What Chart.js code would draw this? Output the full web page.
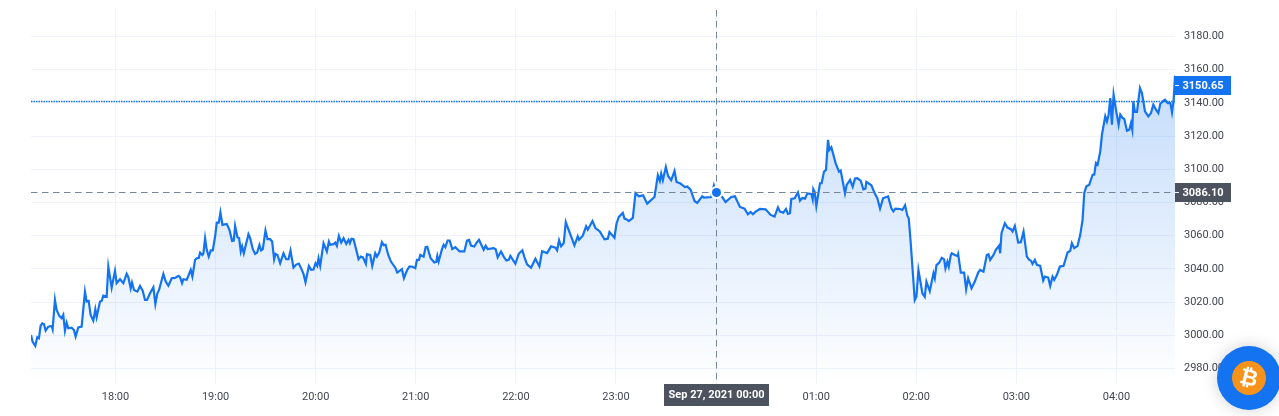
<!DOCTYPE html>
<html lang="en">
  <head>
    <meta charset="utf-8" />
    <title>ETH price chart</title>
    <script src="https://cdn.jsdelivr.net/npm/chart.js/dist/chart.umd.min.js"></script>
    <style>
      * {
        margin: 0;
        padding: 0;
      }
      html, body {
        width: 1279px;
        height: 416px;
        overflow: hidden;
        background: #fff;
      }
      #myChart {
        display: block;
      }
      .badge {
        position: absolute;
        left: 1217px;
        top: 346px;
        width: 64px;
        height: 64px;
        border-radius: 50%;
        background: #1373f0;
        box-shadow: 0 0 16px rgba(0, 0, 0, 0.18);
      }
      .coin {
        position: absolute;
        left: 15px;
        top: 15px;
        width: 34px;
        height: 34px;
        line-height: 34px;
        border-radius: 50%;
        background: #f7931a;
        color: #fff;
        text-align: center;
        font: bold 22px/34px "DejaVu Sans", sans-serif;
      }
      .coin span {
        display: inline-block;
        transform: rotate(14deg);
      }
    </style>
  </head>
  <body>
    <canvas id="myChart" width="1279" height="416"></canvas>
    <div class="badge"><div class="coin"><span>₿</span></div></div>

    <script>
      // minutes after 17:00
      const minutes = [
        9.35, 10.3, 11.9, 13.1, 14.1, 15.1, 16.1, 17.1, 18.1, 19.7, 21.7, 22.3, 23.7, 24.7, 26.3, 27.7, 28.7, 29.7, 30.7, 31.7,
        33.7, 35.1, 36.1, 37.7, 39.7, 41.7, 42.7, 43.9, 45.1, 46.7, 47.9, 48.7, 50.7, 51.7, 52.7, 54.7, 55.7, 57.7, 59.7, 60.7,
        62.7, 64.7, 66.7, 67.7, 69.1, 69.9, 71.1, 73.1, 74.7, 76.3, 77.7, 78.9, 80.7, 82.7, 83.9, 85.1, 86.1, 88.7, 90.1, 91.7,
        93.7, 95.7, 97.7, 98.7, 99.9, 100.7, 102.7, 105.1, 106.1, 107.7, 108.7, 109.9, 110.7, 112.1, 112.7, 113.7, 114.7, 115.9, 117.1, 118.3,
        119.7, 120.7, 121.9, 122.9, 124.1, 126.7, 128.3, 129.9, 130.9, 131.7, 133.1, 134.1, 135.1, 135.9, 136.9, 139.7,
        140.7, 142.3, 143.7, 144.9, 146.3, 147.3, 148.3, 149.9, 151.1, 152.7, 153.9, 155.1, 155.9, 157.1, 158.7, 160.7, 162.3, 163.7, 164.9, 166.7,
        168.3, 169.9, 171.7, 172.7, 173.9, 175.9, 177.3, 178.7, 179.9, 180.9, 181.7, 182.7, 184.7, 186.7, 187.9, 188.7, 190.7, 191.7, 192.7, 193.9,
        195.3, 196.7, 198.3, 199.7, 200.5, 201.5, 202.7, 204.3, 205.7, 207.1, 208.3, 210.1, 210.7, 212.7, 213.9, 215.7, 216.7, 218.1, 219.7, 220.7,
        221.9, 223.5, 225.1, 227.9, 228.9, 231.7, 232.9, 234.7, 236.1, 237.7, 239.7, 240.7, 241.9, 242.7, 244.7, 245.9, 246.9, 248.9, 251.1, 252.3,
        252.9, 253.7, 255.7, 256.7, 257.7, 259.1, 260.3, 261.9, 263.7, 266.3, 269.1, 270.7, 271.9, 273.1, 275.1, 276.3, 277.9, 280.7, 281.9, 283.1,
        286.7, 287.9, 289.1, 291.1, 292.7, 294.3, 295.7, 296.7,
        299.7, 301.7, 303.9, 305.1, 306.7, 309.1, 311.7, 314.1, 315.7, 318.7, 321.1, 323.7, 324.7, 325.9, 327.1, 328.7, 329.9, 335.1, 337.1, 337.9,
        340.1, 342.1, 343.1, 345.9, 347.7, 350.3, 353.1, 355.1, 356.1, 359.1, 360.3, 361.7, 364.1, 365.1, 366.7, 367.7, 370.1, 371.7, 373.7, 376.3,
        378.7, 383.1, 385.1, 386.3, 387.1, 388.1, 389.9, 391.3, 393.1, 395.1, 396.3, 398.7, 401.3, 402.7, 404.7, 407.1, 408.7, 411.7, 412.7, 417.1,
        418.7, 420, 423.7, 425.7, 429.1, 431.3, 434.3, 437.1, 439.1, 440.7, 442.1, 443.7, 446.3,
        449.7, 452.7, 455.1, 457.1, 458.3, 460.3, 461.9, 463.1, 464.3, 465.1, 467.1, 469.1, 470.3, 471.7, 473.3, 474.7, 477.1, 477.9, 478.3, 479.1,
        480.1, 482.3, 483.3, 484.7, 485.9, 487.1, 487.9, 489.1, 491.7, 493.7, 494.7, 497.3, 498.3, 500.3, 501.9, 503.3, 504.7, 506.7, 508.3, 509.5,
        510.1, 513.1, 515.1, 516.7, 518.3, 520.1, 523.1, 525.1, 526.3, 527.5, 530.3, 531.7, 533.3, 534.7, 535.5, 536.7, 539.1, 540.1, 541.3, 543.7,
        545.1, 546.1, 548.1, 550.3, 551.1, 552.1, 553.7, 555.3, 556.7, 557.5, 558.7, 559.5, 560.7,
        561.3, 563.1, 564.7, 565.1, 566.7, 568.7, 569.9, 571.1, 573.1, 575.1, 577.1, 578.3, 580.3, 582.3, 583.3, 584.3, 586.3, 587.7, 589.7, 590.3,
        591.1, 593.1, 594.7, 596.7, 597.7, 599.1, 601.1, 602.7, 604.3, 606.3, 607.7, 608.7, 609.7, 611.1, 612.3, 614.3, 616.1, 617.1, 619.1, 620.3,
        621.7, 622.7, 624.3, 626.1, 628.3, 630.7, 632.3, 633.3, 634.7, 636.7, 638.3, 639.7, 640.7, 641.9, 643.7, 645.7, 646.7, 647.7, 648.7, 650.3,
        651.3, 653.3, 654.3, 655.3, 656.3, 657.3, 658.3, 659.7, 661.3, 662.3, 663.7, 664.7, 666.3, 667.7, 668.7, 669.5, 670.1, 671.1, 672.3, 674.1,
        675.3, 677.1, 679.1, 680.7, 682.1, 683.7, 685.1, 686.3, 687.7, 689.1, 690.7, 692.3, 693.3, 694.3, 695.1,
      ];
      const prices = [
        3000.2, 2996.2, 2993.6, 2998.8, 2998.2, 3005.6, 3007.2, 3006.8, 3002.8, 3005.2, 3005.6, 3003.6, 3021.3, 3015.3, 3011.7, 3010.3, 3012.3, 3002.8, 3007.6, 3004.2,
        3004.6, 3003.2, 2999.2, 3004.8, 3005.2, 3026.3, 3020.3, 3020.7, 3012.3, 3008.8, 3015.7, 3010.9, 3020.3, 3020.7, 3023.9, 3023.3, 3041.4, 3028.7, 3038.8, 3031.4,
        3033.8, 3031.4, 3037.0, 3035.0, 3028.3, 3031.8, 3027.3, 3026.3, 3029.7, 3026.9, 3021.3, 3021.3, 3025.3, 3028.9, 3018.9, 3025.3, 3027.3, 3037.0, 3032.4, 3029.9,
        3034.4, 3034.6, 3035.8, 3035.0, 3031.4, 3033.8, 3033.4, 3039.4, 3035.4, 3045.4, 3046.4, 3046.6, 3049.8, 3048.4, 3049.4, 3058.5, 3051.5, 3047.4, 3051.1, 3051.1,
        3059.5, 3067.9, 3067.9, 3074.0, 3066.5, 3067.1, 3063.5, 3056.9, 3057.1, 3065.9, 3059.1, 3058.5, 3050.5, 3053.5, 3049.4, 3060.9,
        3058.5, 3051.9, 3049.0, 3049.8, 3054.5, 3051.1, 3051.9, 3063.1, 3057.9, 3057.9, 3056.5, 3045.8, 3049.0, 3048.4, 3043.4, 3049.4, 3045.8, 3045.8, 3051.1, 3040.8,
        3042.6, 3043.2, 3039.4, 3037.0, 3032.0, 3041.8, 3039.4, 3039.6, 3043.4, 3041.8, 3046.4, 3041.8, 3055.5, 3050.5, 3056.5, 3054.5, 3054.9, 3055.9, 3053.9, 3059.9,
        3055.9, 3058.5, 3055.1, 3057.5, 3055.5, 3058.1, 3057.9, 3051.5, 3045.8, 3047.4, 3047.0, 3043.0, 3048.8, 3048.4, 3041.8, 3049.4, 3047.4, 3049.8, 3056.1, 3054.3,
        3054.5, 3048.4, 3044.4, 3040.4, 3037.8, 3039.8, 3034.4, 3039.0, 3041.4, 3041.4, 3040.4, 3045.4, 3045.4, 3048.4, 3047.4, 3053.1, 3053.3, 3046.4, 3043.8, 3044.2,
        3047.8, 3044.4, 3051.9, 3054.5, 3053.1, 3057.1, 3057.1, 3051.9, 3053.1, 3050.5, 3050.5, 3057.1, 3057.5, 3054.1, 3053.5, 3055.5, 3057.5, 3051.5, 3053.9, 3051.9,
        3052.5, 3051.9, 3047.0, 3050.5, 3047.4, 3045.0, 3045.4, 3047.8,
        3043.1, 3049.1, 3051.2, 3047.1, 3042.7, 3040.7, 3046.1, 3041.5, 3050.6, 3049.5, 3053.6, 3052.8, 3051.2, 3057.2, 3053.6, 3055.6, 3068.2, 3054.2, 3059.6, 3057.6,
        3060.0, 3065.6, 3063.6, 3068.8, 3064.6, 3062.6, 3057.8, 3058.2, 3062.2, 3058.8, 3067.2, 3071.3, 3073.7, 3070.3, 3069.6, 3068.8, 3070.7, 3085.7, 3083.7, 3084.3,
        3079.3, 3083.3, 3096.4, 3093.0, 3097.4, 3093.4, 3101.4, 3095.8, 3093.4, 3099.0, 3092.4, 3091.4, 3089.3, 3089.7, 3087.7, 3080.9, 3079.7, 3083.7, 3082.9, 3083.3,
        3090.3, 3086.1, 3083.3, 3080.3, 3083.3, 3083.7, 3077.3, 3076.3, 3072.9, 3074.3, 3072.9, 3074.5, 3076.1,
        3075.9, 3072.5, 3071.5, 3077.1, 3074.5, 3073.9, 3076.1, 3073.1, 3073.5, 3082.1, 3082.5, 3086.1, 3081.1, 3082.7, 3082.3, 3085.5, 3085.1, 3081.9, 3088.1, 3086.5,
        3077.9, 3091.6, 3091.6, 3098.6, 3099.6, 3117.7, 3111.7, 3113.3, 3103.6, 3098.6, 3099.2, 3085.5, 3090.6, 3093.6, 3089.5, 3094.4, 3094.6, 3093.2, 3087.9, 3088.3,
        3092.4, 3090.4, 3085.5, 3082.5, 3076.3, 3082.5, 3083.7, 3076.5, 3074.7, 3076.3, 3076.1, 3075.5, 3078.3, 3071.9, 3070.5, 3055.4, 3021.2, 3023.2, 3039.3, 3025.2,
        3023.2, 3032.3, 3026.6, 3037.3, 3034.3, 3042.3, 3043.7, 3046.7, 3045.7, 3040.3, 3044.3, 3041.3, 3048.3,
        3049.4, 3048.4, 3047.8, 3049.0, 3037.8, 3037.8, 3027.7, 3034.4, 3028.3, 3032.4, 3037.8, 3039.4, 3038.4, 3048.4, 3048.8, 3045.4, 3048.4, 3051.5, 3054.1, 3049.4,
        3061.5, 3067.5, 3064.9, 3063.9, 3062.5, 3065.9, 3055.9, 3056.1, 3062.5, 3047.4, 3045.4, 3045.0, 3043.0, 3045.4, 3042.4, 3041.8, 3033.0, 3035.4, 3034.8, 3029.8,
        3035.4, 3033.4, 3036.4, 3041.4, 3041.8, 3049.9, 3050.9, 3055.5, 3052.5, 3053.9, 3060.5, 3069.5, 3085.6, 3089.6, 3090.7, 3096.7, 3096.7, 3103.7, 3102.7, 3110.8,
        3120.8, 3131.9, 3128.8, 3132.9, 3142.9, 3126.8, 3144.9, 3135.9, 3126.8, 3132.9, 3130.9, 3130.3, 3123.2, 3123.8, 3127.8, 3123.8, 3140.9, 3134.5, 3134.5, 3148.9,
        3145.9, 3134.9, 3131.9, 3133.9, 3138.9, 3135.9, 3133.9, 3139.5, 3140.9, 3141.9, 3139.9, 3139.9, 3134.3, 3141.9, 3156.4,
      ];
      const xTicks = [60, 120, 180, 240, 300, 360, 420, 480, 540, 600, 660];
      const xTickLabels = ["18:00", "19:00", "20:00", "21:00", "22:00", "23:00", "", "01:00", "02:00", "03:00", "04:00"];
      const yTicks = [2980, 3000, 3020, 3040, 3060, 3080, 3100, 3120, 3140, 3160, 3180];

      const crossMinute = 420;
      const crossPrice = 3086.1;
      const crossDate = "Sep 27, 2021 00:00";
      const lastPrice = 3150.65;
      const dottedPrice = 3141;

      const blue = "#1373f0";
      const dark = "#4c525e";
      const gridColor = "#f0f3fa";

      const areaFill = (context) => {
        const area = context.chart.chartArea;
        if (!area) return "transparent";
        const g = context.chart.ctx.createLinearGradient(0, 76, 0, area.bottom);
        g.addColorStop(0, "rgba(19, 115, 240, 0.25)");
        g.addColorStop(1, "rgba(19, 115, 240, 0)");
        return g;
      };

      const drawTag = (ctx, text, x, y, w, h, color) => {
        ctx.fillStyle = color;
        ctx.fillRect(x, y, w, h);
        ctx.fillStyle = "#fff";
        ctx.font = "bold 11px Roboto";
        ctx.textBaseline = "middle";
        ctx.textAlign = "center";
        ctx.fillText(text, x + w / 2, y + h / 2 + 0.5);
      };

      const overlayPlugin = {
        id: "overlay",
        afterDatasetsDraw: function (chart) {
          const ctx = chart.ctx;
          const { left, right, top, bottom } = chart.chartArea;
          const cx = Math.round(chart.scales.x.getPixelForValue(crossMinute)) + 0.5;
          const cy = Math.round(chart.scales.y.getPixelForValue(crossPrice)) + 0.5;
          const dy = Math.round(chart.scales.y.getPixelForValue(dottedPrice)) + 0.5;
          const ly = Math.round(chart.scales.y.getPixelForValue(lastPrice));

          ctx.save();

          // dotted price line
          ctx.strokeStyle = blue;
          ctx.lineWidth = 1.5;
          ctx.setLineDash([1.5, 1]);
          ctx.beginPath();
          ctx.moveTo(left, dy);
          ctx.lineTo(right, dy);
          ctx.stroke();

          // crosshair
          ctx.strokeStyle = "#758696";
          ctx.lineWidth = 1;
          ctx.setLineDash([6.5, 4.5]);
          ctx.beginPath();
          ctx.moveTo(left, cy);
          ctx.lineTo(right, cy);
          ctx.moveTo(cx, top);
          ctx.lineTo(cx, bottom);
          ctx.stroke();
          ctx.setLineDash([]);

          // crosshair dot
          ctx.beginPath();
          ctx.arc(cx, cy, 6.5, 0, Math.PI * 2);
          ctx.fillStyle = "#fff";
          ctx.fill();
          ctx.beginPath();
          ctx.arc(cx, cy, 4.5, 0, Math.PI * 2);
          ctx.fillStyle = blue;
          ctx.fill();

          // tags
          drawTag(ctx, lastPrice.toFixed(2), right, ly - 9, 56, 19, blue);
          ctx.fillStyle = "#fff";
          ctx.fillRect(right, ly, 4, 1);
          drawTag(ctx, crossPrice.toFixed(2), right, cy - 9.5, 56, 19, dark);
          ctx.fillStyle = "#fff";
          ctx.fillRect(right, cy - 0.5, 4, 1);
          drawTag(ctx, crossDate, cx - 52.5, bottom, 105, 22, dark);
          ctx.restore();
        },
      };

      const config = {
        type: "line",
        data: {
          datasets: [
            {
              data: minutes.map((m, i) => ({ x: m, y: prices[i] })),
              borderColor: blue,
              borderWidth: 2.2,
              tension: 0,
              pointRadius: 0,
              fill: "start",
              backgroundColor: areaFill,
            },
          ],
        },
        options: {
          responsive: false,
          animation: false,
          layout: {
            padding: { left: 31, top: 10, right: 0, bottom: 0 },
          },
          plugins: {
            legend: { display: false },
            tooltip: { enabled: false },
          },
          scales: {
            x: {
              type: "linear",
              min: 9.35,
              max: 695.1,
              afterFit: (scale) => {
                scale.height = 32;
                scale.paddingLeft = 0;
                scale.paddingRight = 0;
              },
              afterBuildTicks: (scale) => {
                scale.ticks = xTicks.map((v) => ({ value: v }));
              },
              grid: { color: gridColor, drawTicks: false },
              border: { display: false },
              ticks: {
                autoSkip: false,
                maxRotation: 0,
                padding: 7,
                color: "#434651",
                font: { family: "Roboto", size: 11 },
                callback: (v) => xTickLabels[xTicks.indexOf(v)],
              },
            },
            y: {
              position: "right",
              min: 2970.66,
              max: 3195.96,
              afterFit: (scale) => {
                scale.width = 104;
                scale.paddingTop = 0;
                scale.paddingBottom = 0;
              },
              afterBuildTicks: (scale) => {
                scale.ticks = yTicks.map((v) => ({ value: v }));
              },
              grid: { color: gridColor, drawTicks: false },
              border: { display: false },
              ticks: {
                crossAlign: "near",
                padding: 9,
                color: "#434651",
                font: { family: "Roboto", size: 11 },
                callback: (v) => v.toFixed(2),
              },
            },
          },
        },
        plugins: [overlayPlugin],
      };

      var myChart = new Chart(document.getElementById("myChart"), config);
    </script>
  </body>
</html>
